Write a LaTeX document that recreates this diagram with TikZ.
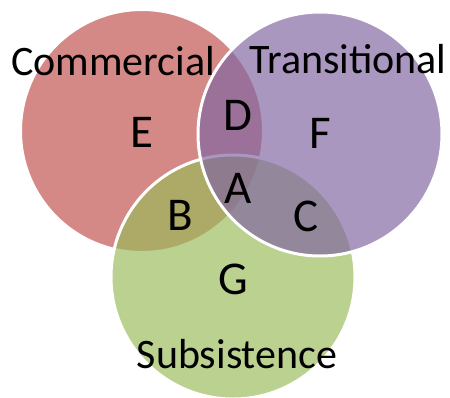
\documentclass[tikz,border=0pt]{standalone}
\usepackage{fontspec}
\setmainfont{Carlito}
\definecolor{cred}{HTML}{C0504D}
\definecolor{cpurple}{HTML}{8064A2}
\definecolor{cgreen}{HTML}{9BBB59}
\begin{document}
\begin{tikzpicture}[x=1pt,y=-1pt,
  setcircle/.style={draw=white,line width=3pt,fill opacity=0.67},
  biglabel/.style={inner sep=0pt,anchor=base,font=\fontsize{42}{44}\selectfont},
  letterlabel/.style={inner sep=0pt,anchor=base,font=\fontsize{47}{50}\selectfont}]
\useasboundingbox (0,0) rectangle (450,397);
\fill[white] (0,0) rectangle (450,397);
\path[setcircle,fill=cred] (142,131) circle (121.5);
\path[setcircle,fill=cgreen] (233,277) circle (122);
\path[setcircle,fill=cpurple] (320,134) circle (122);
\node[biglabel] (comm) at (113,75) {Commercial};
\node[biglabel] (trans) at (348,73) {Transitional};
\node[biglabel] (subs) at (237,368) {Subsistence};
\node[letterlabel] (E) at (142,147) {E};
\node[letterlabel] (D) at (238,130) {D};
\node[letterlabel] (F) at (320,148) {F};
\node[letterlabel] (A) at (238,203) {A};
\node[letterlabel] (B) at (180,230) {B};
\node[letterlabel] (C) at (306,231) {C};
\node[letterlabel] (G) at (233,294) {G};
\end{tikzpicture}
\end{document}
